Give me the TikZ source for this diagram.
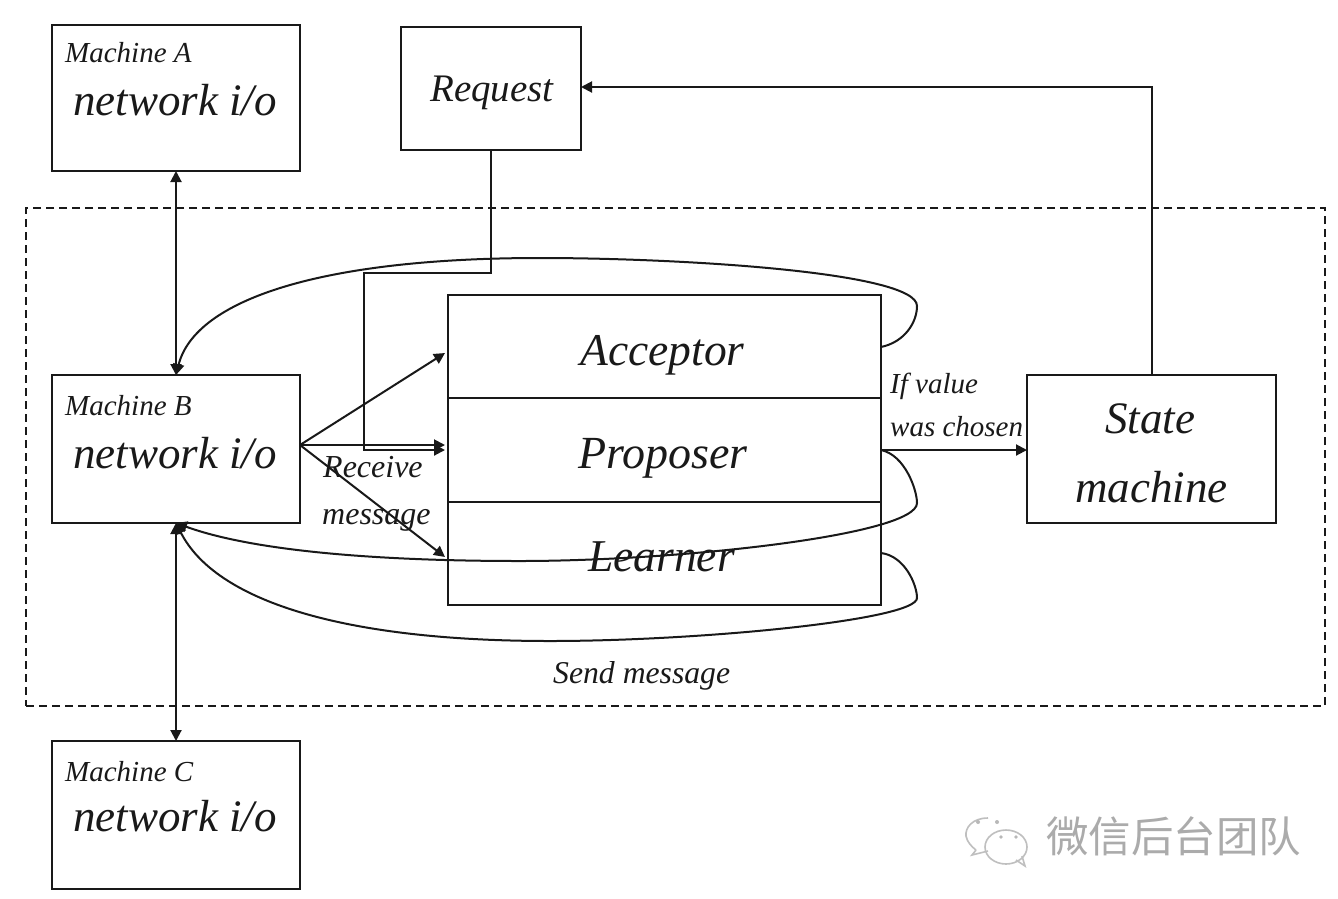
\documentclass[tikz,border=0pt]{standalone}
\usepackage{fontspec}
\setmainfont{Liberation Serif}
\newfontfamily\cjkwm{Noto Sans CJK SC}
\usetikzlibrary{arrows.meta,calc}
\newcommand{\fsz}[1]{\fontsize{#1}{#1}\selectfont\itshape}
\tikzset{
  box/.style={draw=black!90,line width=2pt,rectangle,inner sep=0pt,outer sep=0pt,anchor=north west},
  lab/.style={inner sep=0pt,anchor=base west,text=black!90},
  bigl/.style={lab,font=\fsz{45}},
  smalll/.style={lab,font=\fsz{29}},
  conn/.style={draw=black!90,line width=2pt},
  tip/.style={-{Triangle[length=11pt,width=11pt]}},
  tips/.style={{Triangle[length=11pt,width=11pt]}-{Triangle[length=11pt,width=11pt]}},
  wm/.style={draw=black!25,line width=1.6pt}
}
\begin{document}
\begin{tikzpicture}[x=1pt,y=-1pt]
\useasboundingbox (0,0) rectangle (1338,898);
\fill[white] (0,0) rectangle (1338,898);
% boundary
\node[box,dash pattern=on 8pt off 5pt,minimum width=1299pt,minimum height=498pt] (frame) at (26,208) {};
% boxes
\node[box,minimum width=248pt,minimum height=146pt] (ma) at (52,25) {};
\node[box,minimum width=180pt,minimum height=123pt] (req) at (401,27) {};
\node[box,minimum width=248pt,minimum height=148pt] (mb) at (52,375) {};
\node[box,minimum width=248pt,minimum height=148pt] (mc) at (52,741) {};
\node[box,minimum width=249pt,minimum height=148pt] (sm) at (1027,375) {};
\node[box,minimum width=433pt,minimum height=103pt] (acc) at (448,295) {};
\node[box,minimum width=433pt,minimum height=104pt] (prop) at (448,398) {};
\node[box,minimum width=433pt,minimum height=103pt] (lrn) at (448,502) {};
% box texts
\node[smalll] (ta1) at (65,62) {Machine A};
\node[bigl] (ta2) at (73,115) {network i/o};
\node[lab,font=\fsz{39}] (treq) at (430,101) {Request};
\node[smalll] (tb1) at (65,415) {Machine B};
\node[bigl] (tb2) at (73,468) {network i/o};
\node[smalll] (tc1) at (65,781) {Machine C};
\node[bigl] (tc2) at (73,831) {network i/o};
\node[lab,font=\fsz{45.5}] (tac) at (580,365) {Acceptor};
\node[lab,font=\fsz{46}] (tpr) at (578,468) {Proposer};
\node[lab,font=\fsz{45.5}] (tle) at (588,571) {Learner};
\node[lab,font=\fsz{45}] (ts1) at (1105,433) {State};
\node[lab,font=\fsz{45}] (ts2) at (1075,502) {machine};
\node[lab,font=\fsz{32}] (tr1) at (323,477) {Receive};
\node[lab,font=\fsz{32}] (tr2) at (322,524) {message};
\node[smalll] (ti1) at (890,393) {If value};
\node[smalll] (ti2) at (890,436) {was chosen};
\node[lab,font=\fsz{31.7}] (tsend) at (553,683) {Send message};
% free ends of connectors on the cells
\coordinate (bout) at (mb.east |- 0,445);
\coordinate (aend) at (445,353);
\coordinate (pend) at (445,445);
\coordinate (pend2) at (445,450);
\coordinate (lend) at (445,557);
\coordinate (aout) at (881,347);
\coordinate (pout) at (881,450);
\coordinate (lout) at (881,553);
\coordinate (sin) at (sm.west |- pout);
\coordinate (rback) at (req.east |- 0,87);
\coordinate (rdown) at (req.south);
% connectors
\draw[conn,tips] (ma.south) -- (mb.north);
\draw[conn,tips] (mb.south) -- (mc.north);
\draw[conn,tip] (bout) -- (aend);
\draw[conn,tip] (bout) -- (pend);
\draw[conn,tip] (bout) -- (lend);
\draw[conn,tip] (rdown) |- (364,273) -- (364,450) -- (pend2);
\draw[conn,tip] (pout) -- (sin);
\draw[conn,tip] (sm.north) |- (rback);
\draw[conn,tip] (aout) .. controls (905,342) and (917,322) .. (917,306)
   .. controls (917,272) and (680,258) .. (540,258)
   .. controls (320,258) and (195,300) .. (mb.north);
\draw[conn,tip] (pout) .. controls (905,455) and (917,490) .. (917,503)
   .. controls (917,535) and (680,561) .. (520,561)
   .. controls (370,561) and (250,550) .. (mb.south);
\draw[conn,tip] (lout) .. controls (905,556) and (917,585) .. (917,598)
   .. controls (917,620) and (700,641) .. (550,641)
   .. controls (340,641) and (215,600) .. (mb.south);
% watermark
\node[inner sep=0pt,anchor=west,text=black!33,font=\cjkwm\fontsize{42.5}{42.5}\selectfont] (wmt) at (1046,836) {微信后台团队};
\draw[wm] (988,818) .. controls (972,818) and (965,828) .. (966,836) .. controls (967,842) and (972,847) .. (976,850);
\draw[wm] (976,850) -- (972,855) -- (988,851);
\draw[wm] (1006,847) ellipse [x radius=21pt,y radius=17pt];
\draw[wm] (1016,860) -- (1025,866) -- (1022,856);
\fill[black!28] (978,822) circle (2pt) (997,822) circle (2pt) (1001,837) circle (1.8pt) (1016,837) circle (1.8pt);
\end{tikzpicture}
\end{document}
